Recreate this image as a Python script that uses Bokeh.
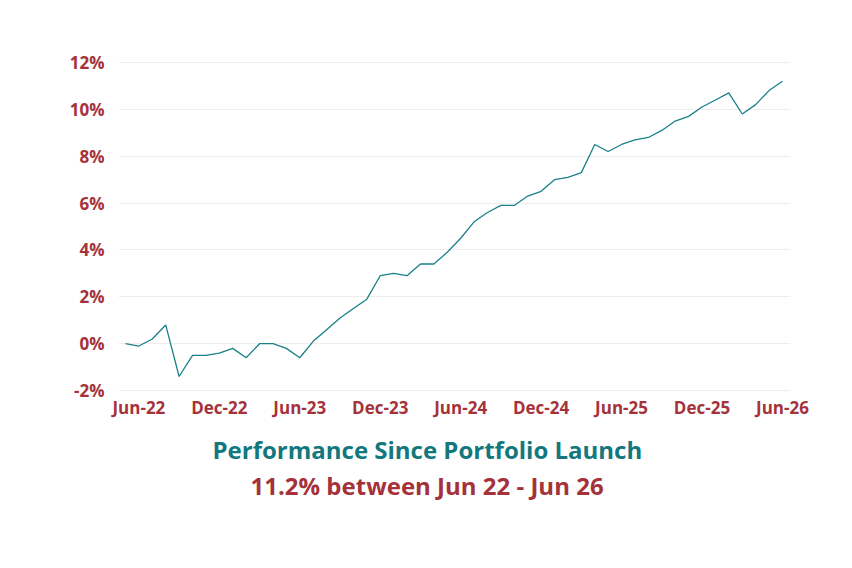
from bokeh.plotting import figure
from bokeh.models import FixedTicker, Title, CustomJSTickFormatter
from bokeh.embed import file_html
from bokeh.resources import INLINE

# ---- data ----
months = ["May-22", "Jun-22", "Jul-22", "Aug-22", "Sep-22", "Oct-22", "Nov-22", "Dec-22",
          "Jan-23", "Feb-23", "Mar-23", "Apr-23", "May-23", "Jun-23", "Jul-23", "Aug-23",
          "Sep-23", "Oct-23", "Nov-23", "Dec-23", "Jan-24", "Feb-24", "Mar-24", "Apr-24",
          "May-24", "Jun-24", "Jul-24", "Aug-24", "Sep-24", "Oct-24", "Nov-24", "Dec-24",
          "Jan-25", "Feb-25", "Mar-25", "Apr-25", "May-25", "Jun-25", "Jul-25", "Aug-25",
          "Sep-25", "Oct-25", "Nov-25", "Dec-25", "Jan-26", "Feb-26", "Mar-26", "Apr-26",
          "May-26", "Jun-26"]
performance = [0.0, -0.1, 0.2, 0.8, -1.4, -0.5, -0.5, -0.4, -0.2, -0.6,
               0.0, 0.0, -0.2, -0.6, 0.1, 0.6, 1.1, 1.5, 1.9, 2.9,
               3.0, 2.9, 3.4, 3.4, 3.9, 4.5, 5.2, 5.6, 5.9, 5.9,
               6.3, 6.5, 7.0, 7.1, 7.3, 8.5, 8.2, 8.5, 8.7, 8.8,
               9.1, 9.5, 9.7, 10.1, 10.4, 10.7, 9.8, 10.2, 10.8, 11.2]
x_tick_labels = ["Jun-22", "Dec-22", "Jun-23", "Dec-23", "Jun-24", "Dec-24", "Jun-25", "Dec-25", "Jun-26"]
y_ticks = [-2, 0, 2, 4, 6, 8, 10, 12]
title_line1 = "Performance Since Portfolio Launch"
title_line2 = "11.2% between Jun 22 - Jun 26"

TEAL = "#12787d"
LINE = "#1a8088"
RED = "#a5323a"
FONT = "Open Sans"

idx = list(range(len(months)))
x_tick_pos = [months.index(m) for m in x_tick_labels]

p = figure(width=836, height=552, output_backend="svg", toolbar_location=None,
           x_range=(-0.52, 49.6), y_range=(-2.21, 12.51),
           min_border_left=118, min_border_right=46, min_border_top=50, min_border_bottom=157)
p.outline_line_color = None
p.background_fill_color = "white"
p.border_fill_color = "white"

p.line(idx, performance, line_color=LINE, line_width=1.3)

# axes
p.xaxis.ticker = FixedTicker(ticks=x_tick_pos)
p.xaxis.major_label_overrides = {pos: lab for pos, lab in zip(x_tick_pos, x_tick_labels)}
p.yaxis.ticker = FixedTicker(ticks=y_ticks)
p.yaxis.formatter = CustomJSTickFormatter(code="return tick.toFixed(0) + '%';")
for ax in (p.xaxis[0], p.yaxis[0]):
    ax.axis_line_color = None
    ax.major_tick_line_color = None
    ax.minor_tick_line_color = None
    ax.major_label_text_color = RED
    ax.major_label_text_font = FONT
    ax.major_label_text_font_style = "bold"
    ax.major_label_text_font_size = "17px"
p.xaxis.major_label_standoff = -6
p.yaxis.major_label_standoff = 8

p.xgrid.grid_line_color = None
p.ygrid.grid_line_color = "#f4ecec"
p.ygrid.grid_line_width = 1

# titles below the chart
t1 = Title(text=title_line1, align="left", text_color=TEAL, text_font=FONT,
           text_font_style="bold", text_font_size="24px", offset=94, standoff=18)
t2 = Title(text=title_line2, align="left", text_color=RED, text_font=FONT,
           text_font_style="bold", text_font_size="24px", offset=132, standoff=-15)
p.add_layout(t1, "below")
p.add_layout(t2, "below")

open("out.html", "w").write(file_html(p, INLINE))
